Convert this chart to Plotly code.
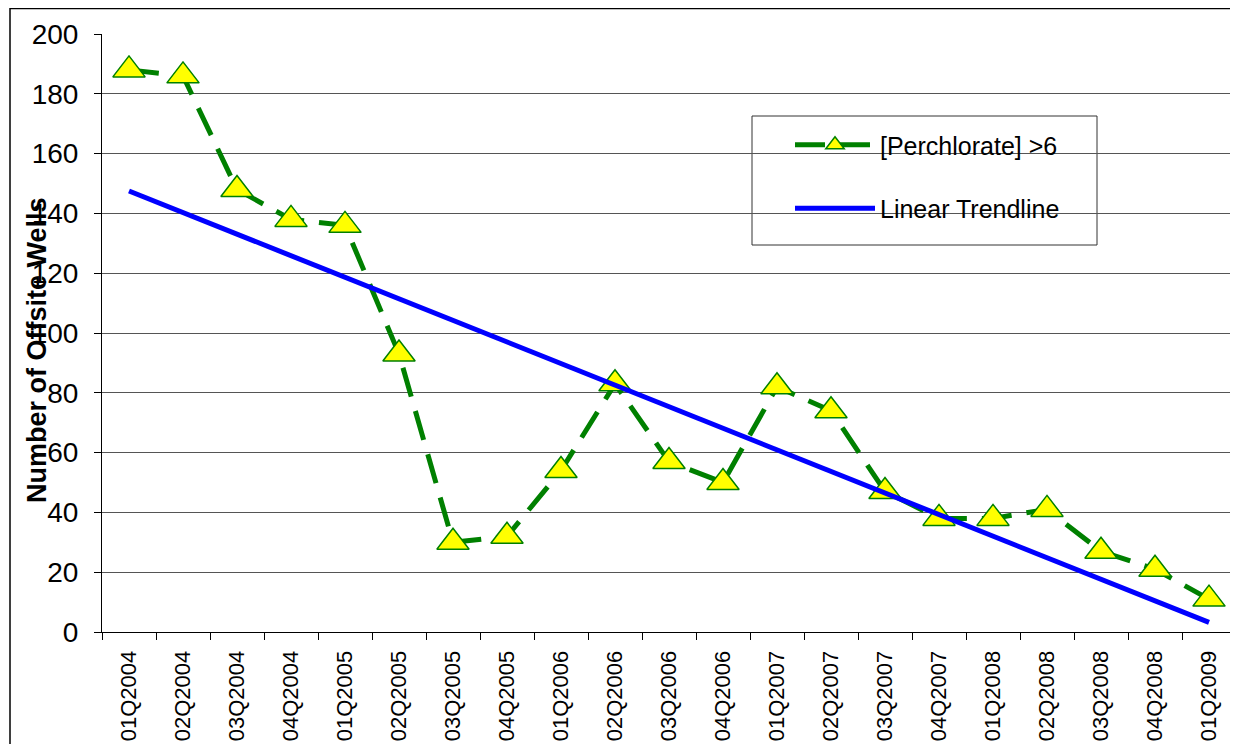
import plotly.graph_objects as go

quarters = ["01Q2004", "02Q2004", "03Q2004", "04Q2004",
            "01Q2005", "02Q2005", "03Q2005", "04Q2005",
            "01Q2006", "02Q2006", "03Q2006", "04Q2006",
            "01Q2007", "02Q2007", "03Q2007", "04Q2007",
            "01Q2008", "02Q2008", "03Q2008", "04Q2008",
            "01Q2009"]
perchlorate_wells = [188, 186, 148, 138, 136, 93, 30, 32, 54, 83, 57,
                     50, 82, 74, 47, 38, 38, 41, 27, 21, 11]
trend_x = ["01Q2004", "01Q2009"]
trend_y = [147.5, 3.2]
y_ticks = [0, 20, 40, 60, 80, 100, 120, 140, 160, 180, 200]

W, H = 1238, 744
OFF = 8  # page body margin
# plot area in screen pixels: x 102..1236, y 34..632
L = 102 - OFF
T = 34 - OFF
R = W - (1236 - OFF)
B = H - (632 - OFF)
pw, ph = W - L - R, H - T - B

def px_x(p):
    return (p - OFF - L) / pw

def px_y(p):
    return (H - B - (p - OFF)) / ph

FONT = "Liberation Sans, Arial, sans-serif"

fig = go.Figure()
fig.add_trace(go.Scatter(
    x=quarters, y=perchlorate_wells, name="[Perchlorate] >6",
    mode="lines+markers",
    line=dict(color="#008000", width=5, dash="30px,15px"),
    marker=dict(symbol="triangle-up", size=28, color="#ffff00",
                line=dict(color="#008000", width=1.5)),
    legendgroup="a",
))
fig.add_trace(go.Scatter(
    x=trend_x, y=trend_y, name="Linear Trendline",
    mode="lines", line=dict(color="#0000ff", width=5),
    legendgroup="b",
))

fig.update_layout(
    width=W, height=H,
    margin=dict(l=L, r=R, t=T, b=B, autoexpand=False),
    paper_bgcolor="white", plot_bgcolor="white",
    font=dict(family=FONT, color="black"),
    showlegend=True,
    legend=dict(x=px_x(790), y=px_y(122), xanchor="left", yanchor="top",
                bgcolor="rgba(0,0,0,0)", borderwidth=0,
                font=dict(size=25, family=FONT), itemwidth=80,
                tracegroupgap=28, traceorder="grouped"),
    xaxis=dict(type="category", categoryorder="array", categoryarray=quarters,
               range=[-0.5, len(quarters) - 0.5],
               showgrid=False, showline=True, linecolor="black", linewidth=1,
               ticks="outside", tickson="boundaries", ticklen=7,
               tickcolor="black", tickangle=-90, ticklabelstandoff=9,
               tickfont=dict(size=22, family=FONT), automargin=False),
    yaxis=dict(range=[0, 200], tickvals=y_ticks, showgrid=True,
               gridcolor="#555555", gridwidth=1, zeroline=False,
               showline=True, linecolor="black", linewidth=1,
               ticks="outside", ticklen=7, tickcolor="black",
               ticklabelstandoff=10,
               tickfont=dict(size=28, family=FONT), automargin=False),
    shapes=[
        dict(type="rect", xref="paper", yref="paper",
             x0=px_x(752), x1=px_x(1097), y0=px_y(245), y1=px_y(116),
             line=dict(color="#333333", width=1), fillcolor="white",
             layer="below"),
        dict(type="rect", xref="paper", yref="paper",
             x0=px_x(10), x1=px_x(1236), y0=px_y(770), y1=px_y(8.5),
             line=dict(color="black", width=1.5), fillcolor="rgba(0,0,0,0)",
             layer="above"),
    ],
    annotations=[
        dict(text="<b>Number of Offsite Wells</b>", textangle=-90,
             xref="paper", yref="paper", x=px_x(37), y=px_y(350),
             xanchor="center", yanchor="middle", showarrow=False,
             font=dict(size=27, family=FONT, color="black")),
    ],
)

fig.write_html("out.html")
